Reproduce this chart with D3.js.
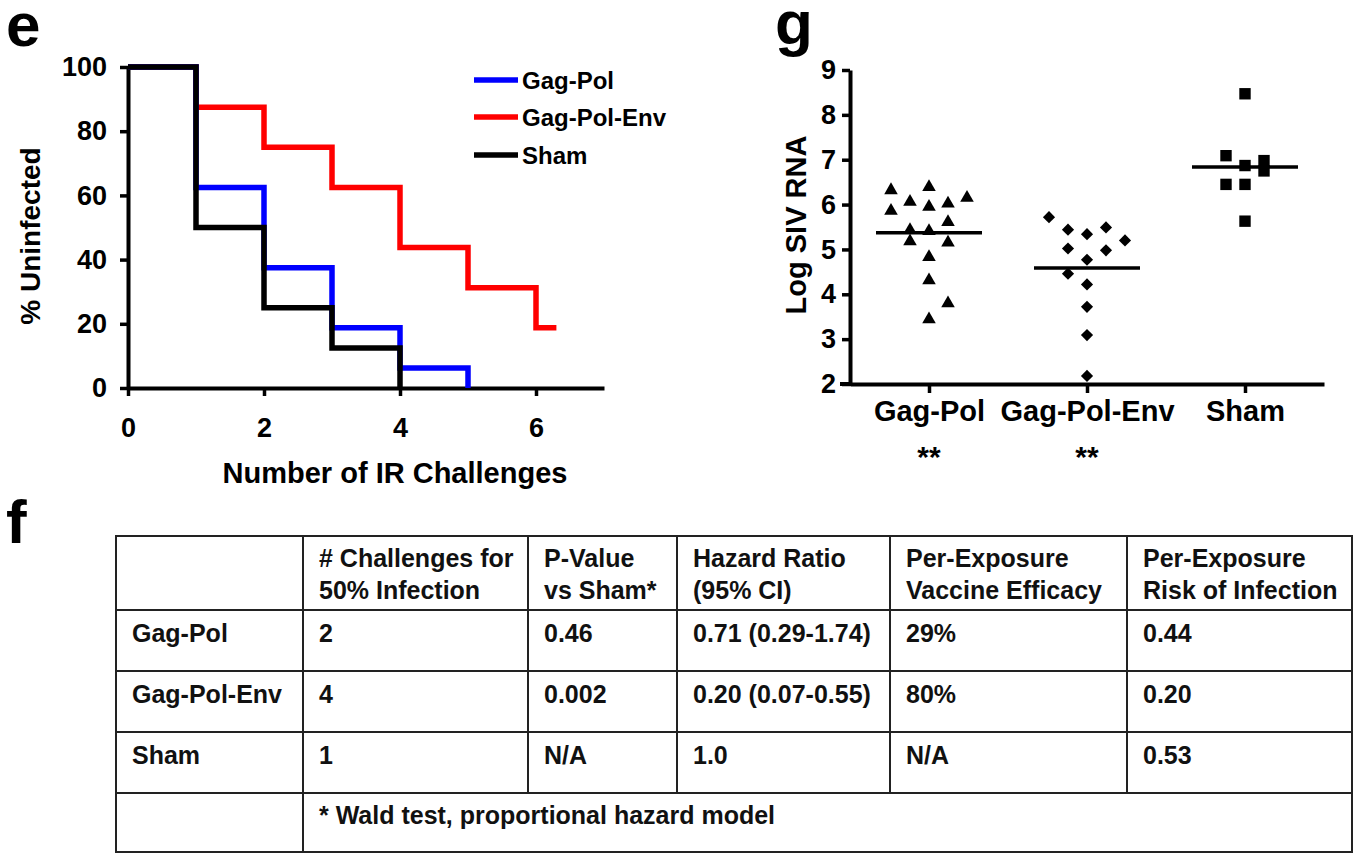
<!DOCTYPE html>
<html>
<head>
<meta charset="utf-8">
<script src="https://cdn.jsdelivr.net/npm/d3@7"></script>
<style>
  body { margin: 0; background: #fff; }
  svg { display: block; font-family: "Liberation Sans", Arial, sans-serif; font-weight: bold; }
</style>
</head>
<body>
<div id="chart"></div>
<script>
// ---- panel e : % uninfected vs number of challenges (Kaplan-Meier)
var challenges = [0, 1, 2, 3, 4, 5, 6];
var gagPolSurv = [100, 62.5, 37.5, 18.75, 6.25, 0];
var gagPolEnvSurv = [100, 87.5, 75, 62.5, 43.75, 31.25, 18.75];
var shamSurv = [100, 50, 25, 12.5, 0];
var gagPolEnvLastCensor = 6.3;
var survTicksX = [0, 2, 4, 6];
var survTicksY = [0, 20, 40, 60, 80, 100];
var seriesNames = ["Gag-Pol", "Gag-Pol-Env", "Sham"];
var seriesColors = ["#0000ff", "#ff0000", "#000000"];

// ---- panel g : log SIV RNA per animal (slot = column in the dot stack)
var groups = ["Gag-Pol", "Gag-Pol-Env", "Sham"];
var groupStars = ["**", "**", ""];
var gagPolRNA  = [6.32, 6.39, 6.06, 6.02, 6.15, 5.86, 5.95, 5.61, 5.43, 5.41, 5.18, 5.15, 4.83, 4.31, 3.80, 3.44];
var gagPolSlot = [-2, 0, -1, 1, 2, -2, 0, 1, -1, 0, -1, 1, 0, 0, 1, 0];
var gagPolEnvRNA  = [5.72, 5.44, 5.34, 5.49, 5.20, 5.02, 4.98, 4.77, 4.46, 4.22, 3.72, 3.09, 2.18];
var gagPolEnvSlot = [-2, -1, 0, 1, 2, -1, 1, 0, -1, 0, 0, 0, 0];
var shamRNA  = [8.47, 7.09, 6.87, 6.98, 6.75, 6.45, 6.45, 5.63];
var shamSlot = [0, -1, 0, 1, 1, -1, 0, 0];
var rnaTicks = [2, 3, 4, 5, 6, 7, 8, 9];

// ---- panel f : table
var tableHead = [["", ""], ["# Challenges for", "50% Infection"], ["P-Value", "vs Sham*"],
                 ["Hazard Ratio", "(95% CI)"], ["Per-Exposure", "Vaccine Efficacy"], ["Per-Exposure", "Risk of Infection"]];
var tableRows = ["Gag-Pol", "Gag-Pol-Env", "Sham"];
var challenges50 = ["2", "4", "1"];
var pValues = ["0.46", "0.002", "N/A"];
var hazardRatios = ["0.71 (0.29-1.74)", "0.20 (0.07-0.55)", "1.0"];
var efficacy = ["29%", "80%", "N/A"];
var riskPerExposure = ["0.44", "0.20", "0.53"];
var footnote = "* Wald test, proportional hazard model";

var W = 1355, H = 854;
var svg = d3.select("#chart").append("svg").attr("width", W).attr("height", H);
svg.append("rect").attr("width", W).attr("height", H).attr("fill", "#fff");

function styleAxis(g, fs) {
  g.select(".domain").attr("stroke", "#000").attr("stroke-width", 4);
  g.selectAll(".tick line").attr("stroke", "#000").attr("stroke-width", 3.5);
  g.selectAll(".tick text").attr("fill", "#000").style("font-size", fs + "px")
    .style("font-family", "Liberation Sans, Arial, sans-serif").style("font-weight", "bold");
}

// panel letters
[["e", 6, 46], ["f", 6, 543], ["g", 775, 44]].forEach(function (l) {
  svg.append("text").attr("x", l[1]).attr("y", l[2]).style("font-size", "62px").text(l[0]);
});

// ================= panel e
var xE = d3.scaleLinear().domain([0, 7]).range([128, 604]);
var yE = d3.scaleLinear().domain([0, 100]).range([388, 67]);

var gE = svg.append("g");
gE.append("g").attr("transform", "translate(0,388)")
  .call(d3.axisBottom(xE).tickValues(survTicksX).tickFormat(d3.format("d")).tickSize(8).tickSizeOuter(0).tickPadding(22))
  .call(styleAxis, 27);
gE.append("g").attr("transform", "translate(128,0)")
  .call(d3.axisLeft(yE).tickValues(survTicksY).tickSize(8).tickSizeOuter(0).tickPadding(13))
  .call(styleAxis, 27);

var stepLine = d3.line().x(function (d) { return xE(d[0]); }).y(function (d) { return yE(d[1]); })
  .curve(d3.curveStepAfter);

function survPoints(vals) {
  return vals.map(function (v, i) { return [challenges[i], v]; });
}
var envPts = survPoints(gagPolEnvSurv);
envPts.push([gagPolEnvLastCensor, gagPolEnvSurv[gagPolEnvSurv.length - 1]]);
var curves = [
  { pts: envPts, color: seriesColors[1] },
  { pts: survPoints(gagPolSurv), color: seriesColors[0] },
  { pts: survPoints(shamSurv), color: seriesColors[2] }
];
gE.selectAll("path.km").data(curves).enter().append("path").attr("class", "km")
  .attr("d", function (d) { return stepLine(d.pts); })
  .attr("fill", "none").attr("stroke", function (d) { return d.color; })
  .attr("stroke-width", 5.5).attr("stroke-linejoin", "miter");

// legend
var legY = [80, 117, 155];
var leg = gE.selectAll("g.leg").data(seriesNames).enter().append("g").attr("class", "leg")
  .attr("transform", function (d, i) { return "translate(474," + legY[i] + ")"; });
leg.append("line").attr("x1", 0).attr("x2", 44)
  .attr("stroke", function (d, i) { return seriesColors[i]; }).attr("stroke-width", 5.5);
leg.append("text").attr("x", 48).attr("dy", "0.36em").style("font-size", "24px").text(function (d) { return d; });

gE.append("text").attr("transform", "translate(40,236) rotate(-90)").attr("text-anchor", "middle")
  .style("font-size", "28px").text("% Uninfected");
gE.append("text").attr("x", 395).attr("y", 483).attr("text-anchor", "middle")
  .style("font-size", "29px").text("Number of IR Challenges");

// ================= panel g
var xG = d3.scalePoint().domain(groups).range([850, 1324]).padding(0.5);
var yG = d3.scaleLinear().domain([2, 9]).range([384, 70]);
var slotX = d3.scaleLinear().domain([-1, 1]).range([-19, 19]);

var gG = svg.append("g");
gG.append("g").attr("transform", "translate(0,384)")
  .call(d3.axisBottom(xG).tickSize(9).tickSizeOuter(0).tickPadding(7))
  .call(styleAxis, 29);
gG.append("g").attr("transform", "translate(850,0)")
  .call(d3.axisLeft(yG).tickValues(rnaTicks).tickFormat(d3.format("d")).tickSize(8).tickSizeOuter(0).tickPadding(6))
  .call(styleAxis, 27);
// x domain starts a bit left of the y axis, as in the figure
gG.append("line").attr("x1", 840).attr("x2", 852).attr("y1", 384).attr("y2", 384)
  .attr("stroke", "#000").attr("stroke-width", 4);

var groupData = [
  { name: groups[0], vals: gagPolRNA, slots: gagPolSlot, sym: d3.symbolTriangle, size: 80, rot: 0 },
  { name: groups[1], vals: gagPolEnvRNA, slots: gagPolEnvSlot, sym: d3.symbolSquare, size: 74, rot: 45 },
  { name: groups[2], vals: shamRNA, slots: shamSlot, sym: d3.symbolSquare, size: 130, rot: 0 }
];
groupData.forEach(function (gd) {
  var sym = d3.symbol().type(gd.sym).size(gd.size);
  gG.selectAll(null).data(gd.vals).enter().append("path")
    .attr("d", sym)
    .attr("fill", "#000")
    .attr("transform", function (v, i) {
      return "translate(" + (xG(gd.name) + slotX(gd.slots[i])) + "," + yG(v) + ") rotate(" + gd.rot + ")";
    });
  var m = d3.mean(gd.vals);
  gG.append("line").attr("x1", xG(gd.name) - 53).attr("x2", xG(gd.name) + 53)
    .attr("y1", yG(m)).attr("y2", yG(m)).attr("stroke", "#000").attr("stroke-width", 3.5);
});

gG.selectAll("text.star").data(groups).enter().append("text").attr("class", "star")
  .attr("x", function (d) { return xG(d); }).attr("y", 467).attr("text-anchor", "middle")
  .style("font-size", "30px").text(function (d, i) { return groupStars[i]; });

gG.append("text").attr("transform", "translate(806,225) rotate(-90)").attr("text-anchor", "middle")
  .style("font-size", "29px").text("Log SIV RNA");

// ================= panel f : table
var colEdges = [116, 303, 528, 677, 890, 1127, 1352];
var rowEdges = [536, 610, 671, 732, 793, 852];
var gT = svg.append("g");
var lineCol = "#222";

gT.append("rect").attr("x", colEdges[0]).attr("y", rowEdges[0])
  .attr("width", colEdges[6] - colEdges[0]).attr("height", rowEdges[5] - rowEdges[0])
  .attr("fill", "none").attr("stroke", lineCol).attr("stroke-width", 2);
rowEdges.slice(1, 5).forEach(function (y) {
  gT.append("line").attr("x1", colEdges[0]).attr("x2", colEdges[6]).attr("y1", y).attr("y2", y)
    .attr("stroke", lineCol).attr("stroke-width", 2);
});
colEdges.slice(1, 6).forEach(function (x, i) {
  gT.append("line").attr("x1", x).attr("x2", x).attr("y1", rowEdges[0])
    .attr("y2", i === 0 ? rowEdges[5] : rowEdges[4])
    .attr("stroke", lineCol).attr("stroke-width", 2);
});

var cellFont = "25px";
tableHead.forEach(function (h, c) {
  h.forEach(function (t, k) {
    gT.append("text").attr("x", colEdges[c] + 16).attr("y", 567 + k * 32)
      .style("font-size", cellFont).attr("fill", "#111").text(t);
  });
});
var cols = [tableRows, challenges50, pValues, hazardRatios, efficacy, riskPerExposure];
cols.forEach(function (col, c) {
  col.forEach(function (t, r) {
    gT.append("text").attr("x", colEdges[c] + 16).attr("y", rowEdges[r + 1] + 32)
      .style("font-size", cellFont).attr("fill", "#111").text(t);
  });
});
gT.append("text").attr("x", colEdges[1] + 16).attr("y", rowEdges[4] + 31)
  .style("font-size", cellFont).attr("fill", "#111").text(footnote);
</script>
</body>
</html>
